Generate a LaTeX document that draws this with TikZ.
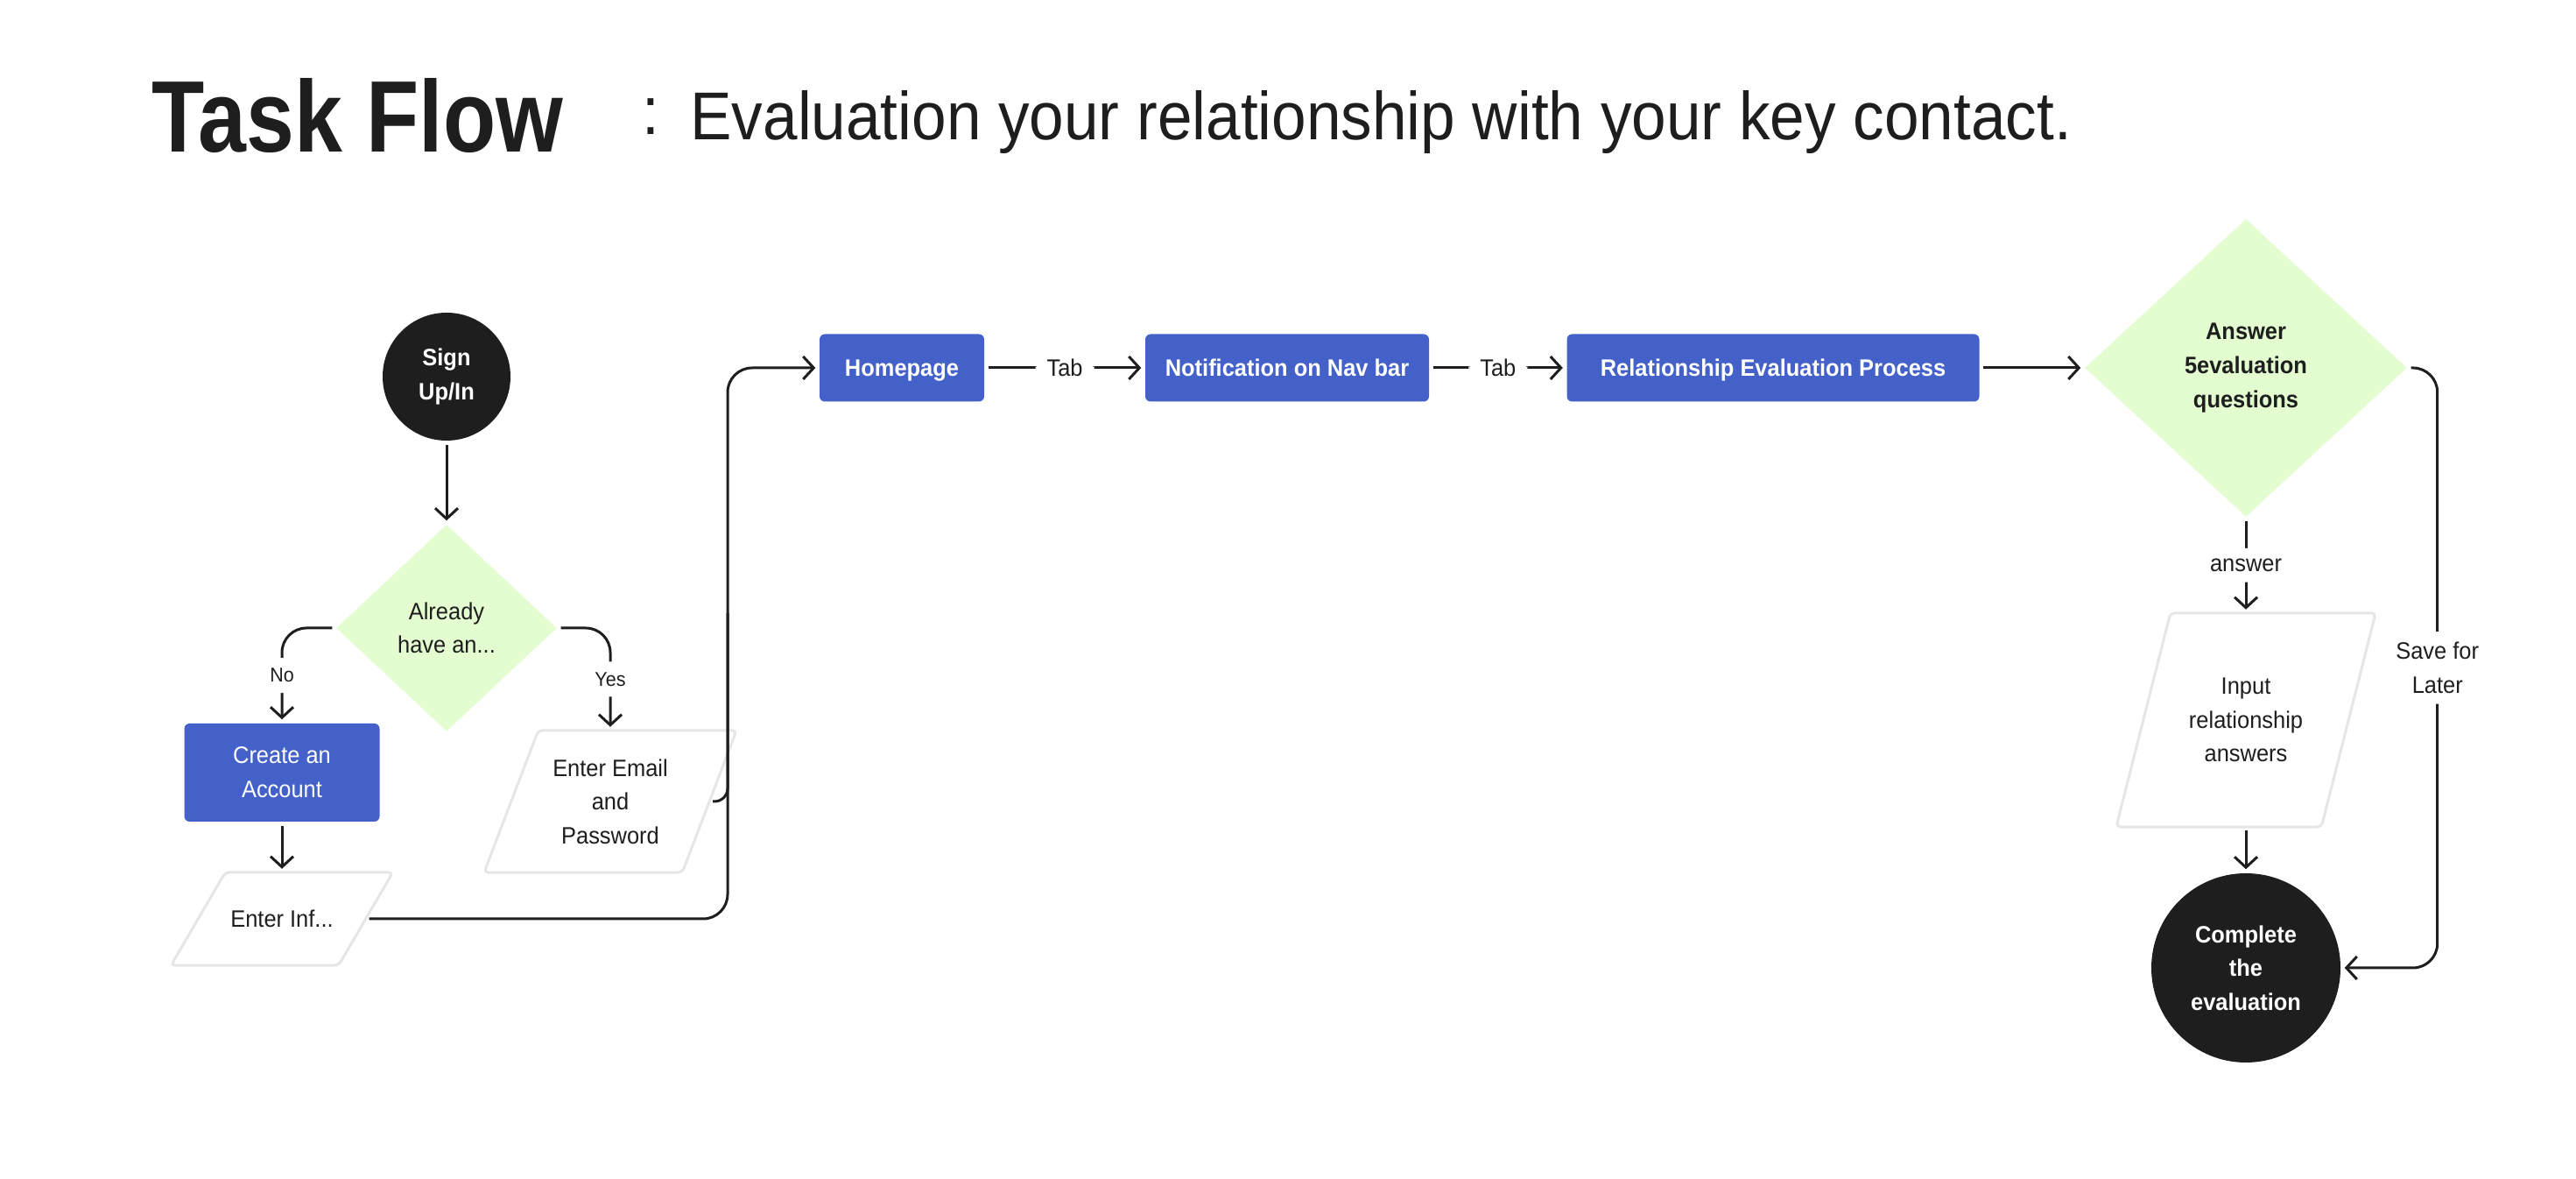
\documentclass[tikz,border=0pt]{standalone}
\usepackage{fontspec}
\setmainfont{Liberation Sans}[FakeStretch=0.94]
\newfontfamily\titlefont{Liberation Sans}[FakeStretch=0.85]
\newfontfamily\subfont{Liberation Sans}[FakeStretch=0.92]
\usepackage{xcolor}
\usepackage{tikz}
\usetikzlibrary{shapes.geometric}
\usetikzlibrary{arrows.meta}
\usetikzlibrary{positioning}

\definecolor{ink}{HTML}{1E1E1E}
\definecolor{navblue}{HTML}{4361C9}
\definecolor{mint}{HTML}{E3FCD0}
\definecolor{rim}{HTML}{E6E6E6}

\tikzset{
  basefont/.style={font=\fontsize{7.7}{11}\selectfont, align=center, text=ink},
  bluebox/.style={basefont, font=\fontsize{7.7}{11}\selectfont\bfseries, fill=navblue, text=white, rounded corners=0.06cm, minimum height=0.77cm, inner sep=0},
  oneline/.style={text height=5.5pt, text depth=0pt},
  endpoint/.style={basefont, font=\fontsize{7.7}{11}\selectfont\bfseries, circle, fill=ink, text=white, inner sep=0},
  choice/.style={basefont, diamond, fill=mint, inner sep=0},
  inputbox/.style={basefont, inner sep=0, append after command={\pgfextra{
    \draw[draw=rim, line width=0.03cm, rounded corners=0.05cm]
      ([xshift=0.62cm]\tikzlastnode.north west) -- (\tikzlastnode.north east)
      -- ([xshift=-0.62cm]\tikzlastnode.south east) -- (\tikzlastnode.south west) -- cycle;}}},
  link/.style={draw=ink, line width=0.03cm, rounded corners=0.28cm, -{Straight Barb[length=0.12cm,width=0.26cm]}, shorten >=0.04cm, shorten <=0.04cm},
  tag/.style={basefont, fill=white, inner xsep=0.13cm, inner ysep=0.12cm}
}

\begin{document}
\begin{tikzpicture}
  \fill[white] (0,0) rectangle (29.42,13.46);
  \useasboundingbox (0,0) rectangle (29.42,13.46);

  \node[anchor=base west, inner sep=0, text=ink, font=\titlefont\fontsize{33}{36}\selectfont\bfseries] (title) at (1.73,11.72) {Task Flow};
  \node[anchor=base west, inner sep=0, text=ink, font=\subfont\fontsize{22}{26}\selectfont] (subtitle) at (7.33,11.86) {\raisebox{0.09em}{:}\hspace{0.35cm}Evaluation your relationship with your key contact.};

  \node[endpoint, minimum size=1.46cm] (sign) at (5.10,9.16) {Sign\\Up/In};
  \node[choice, minimum width=2.52cm, minimum height=2.36cm] (have) at (5.10,6.29) {Already\\have an...};
  \node[bluebox, font=\fontsize{7.7}{11}\selectfont, minimum width=2.23cm, minimum height=1.12cm] (acct) at (3.22,4.64) {Create an\\Account};
  \node[inputbox, minimum width=2.52cm, minimum height=1.05cm] (info) at (3.22,2.97) {Enter Inf...};
  \node[inputbox, minimum width=2.87cm, minimum height=1.61cm] (email) at (6.97,4.31) {Enter Email\\and\\Password};
  \coordinate (riser) at (8.31,6.5);

  \node[bluebox, oneline, minimum width=1.88cm] (home) at (10.30,9.26) {Homepage};
  \node[bluebox, oneline, minimum width=3.24cm] (notif) at (14.70,9.26) {Notification on Nav bar};
  \node[bluebox, oneline, minimum width=4.71cm] (proc) at (20.25,9.26) {Relationship Evaluation Process};

  \node[choice, font=\fontsize{7.7}{11}\selectfont\bfseries, minimum width=3.68cm, minimum height=3.40cm] (ans) at (25.65,9.26) {Answer\\5evaluation\\questions};
  \node[inputbox, minimum width=2.95cm, minimum height=2.43cm] (input) at (25.65,5.24) {Input\\relationship\\answers};
  \node[endpoint, minimum size=2.16cm] (done) at (25.65,2.41) {Complete\\the\\evaluation};

  \draw[link] (sign) -- (have);
  \draw[link] (have.west) -| node[tag, pos=0.75, font=\fontsize{6.5}{8}\selectfont] {No} (acct.north);
  \draw[link] (have.east) -| node[tag, pos=0.75, font=\fontsize{6.5}{8}\selectfont] {Yes} (email.north);
  \draw[link] (acct) -- (info);
  \draw[link] ([xshift=-0.31cm]info.east) -| (riser) |- (home.west);
  \draw[link, -, rounded corners=0.15cm] ([xshift=-0.31cm]email.east) -| (riser);
  \draw[link] (home) -- node[tag, oneline] {Tab} (notif);
  \draw[link] (notif) -- node[tag, oneline] {Tab} (proc);
  \draw[link] (proc) -- (ans);
  \draw[link] (ans) -- node[tag] {answer} (input);
  \draw[link] (input) -- (done);
  \draw[link] (ans.east) -- ++(0.34,0) |- node[tag, pos=0.25] {Save for\\Later} (done.east);
\end{tikzpicture}
\end{document}
